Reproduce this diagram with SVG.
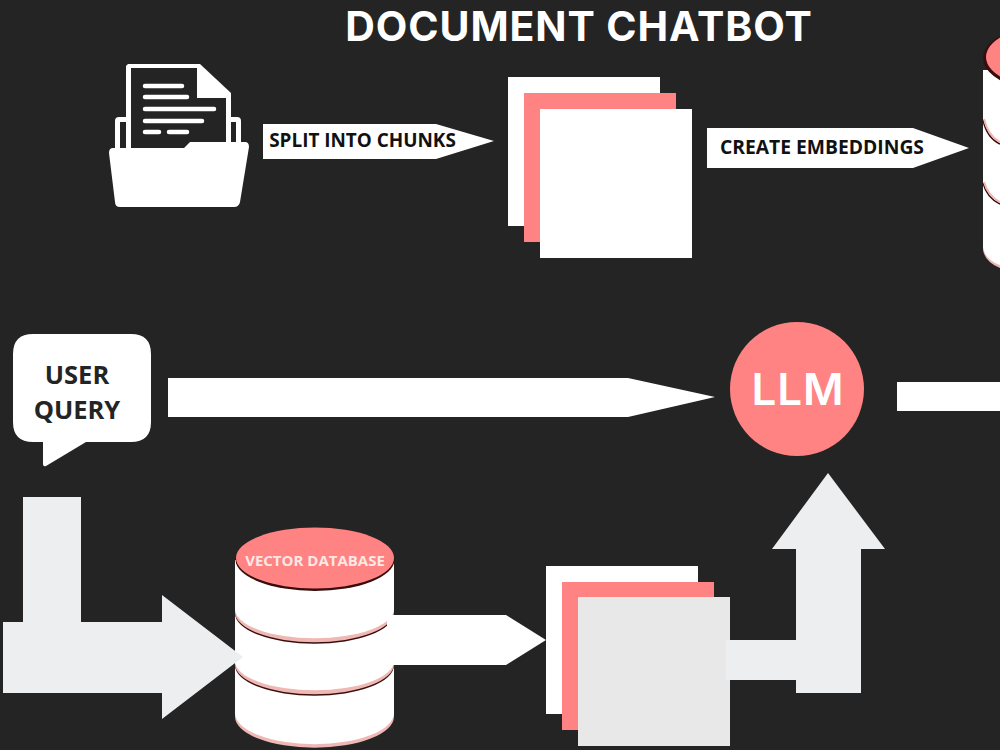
<svg xmlns="http://www.w3.org/2000/svg" width="1000" height="750" viewBox="0 0 1000 750">
<style>
text{font-family:"Open Sans","Liberation Sans",sans-serif;font-weight:700}
.i{font-family:Inter,"Open Sans",sans-serif}
.w{fill:#fff}.p{fill:#ff8383}.g{fill:#eceef0}.k{fill:#242424}.t{fill:#111}
.l{stroke:#fff;stroke-width:4.5;stroke-linecap:round;fill:none}
.dk{fill:#3a0d0d}.ed{fill:#f0b8b4}
</style>
<rect width="1000" height="750" fill="#242424"/>
<text id="title" class="i" x="579" y="40.500" text-anchor="middle" font-size="41" letter-spacing="0.9" fill="#fff">DOCUMENT CHATBOT</text>
<g id="document-folder">
<rect class="w" x="115" y="117" width="126" height="40" rx="4"/>
<rect class="k" x="120" y="122" width="6" height="30"/>
<rect class="k" x="231" y="122" width="5" height="30"/>
<polygon class="k" points="126,64 231,64 231,150 126,150"/>
<polygon class="w" points="128,64 200,64 231,93 231,150 126,150 126,66"/>
<polygon class="k" points="131,68 197,68 197,98 226,98 226,148 131,148"/>
<line class="l" x1="145" y1="86" x2="182" y2="86"/>
<line class="l" x1="145" y1="97" x2="187" y2="97"/>
<line class="l" x1="145" y1="109" x2="214" y2="109"/>
<line class="l" x1="145" y1="121" x2="202" y2="121"/>
<line class="l" x1="145" y1="132" x2="159" y2="132"/>
<line class="l" x1="169" y1="132" x2="187" y2="132"/>
<path class="w" d="M113 148H184L190 142H245Q249 142 249 147L240 202Q239 207 234 207H120Q115 207 115 202L109 153Q109 148 113 148Z"/>
</g>
<g id="chunks-top">
<rect class="w" x="508" y="77" width="152" height="149"/>
<rect class="p" x="524" y="93" width="152" height="149"/>
<rect class="w" x="540" y="109" width="152" height="149"/>
</g>
<g id="vector-db-top">
<path class="ed" d="M983 250V70H1000V268Q985 262 983 250Z"/>
<path class="w" d="M983 247V70H1000V265Q985 260 983 247Z"/>
<path d="M983 120Q987 138 1000 144M983 183Q987 198 1000 204" fill="none" stroke="#3a0d0d" stroke-width="1.5"/>
<path d="M984 119Q988 136 1000 142M984 182Q988 196 1000 202" fill="none" stroke="#f0b8b4" stroke-width="2"/>
<ellipse class="dk" cx="1062" cy="58" rx="79" ry="36"/>
<ellipse class="p" cx="1063" cy="57" rx="77" ry="34"/>
</g>
<g id="user-query">
<path class="w" d="M33 334H131Q151 334 151 354V422Q151 442 131 442H86L46 466Q43 467 43 464V442H33Q13 442 13 422V354Q13 334 33 334Z"/>
<text x="77" y="384" text-anchor="middle" font-size="25.500" fill="#242424">USER</text>
<text x="77" y="419" text-anchor="middle" font-size="25.500" fill="#242424">QUERY</text>
</g>
<g id="llm">
<circle class="p" cx="797" cy="389" r="67"/>
<text class="i" x="798" y="405" text-anchor="middle" font-size="44" letter-spacing="0.9" fill="#fff" style="font-weight:600">LLM</text>
</g>
<g id="vector-db">
<path class="ed" d="M235 715V660H394V715A79 31 0 0 1 235 715Z" transform="translate(0,1.5)"/>
<path class="w" d="M235 713V660H394V713A79 31 0 0 1 235 713Z"/>
<path class="dk" d="M235 664V620H394V664A79 30 0 0 1 235 664Z" transform="translate(0,1.5)"/>
<path class="ed" d="M235 664V620H394V664A79 30 0 0 1 235 664Z"/>
<path class="w" d="M235 661V610H394V661A79 29 0 0 1 235 661Z"/>
<path class="dk" d="M235 612V560H394V612A79 30 0 0 1 235 612Z" transform="translate(0,1.5)"/>
<path class="ed" d="M235 612V560H394V612A79 30 0 0 1 235 612Z"/>
<path class="w" d="M235 609V560H394V609A79 29 0 0 1 235 609Z"/>
<ellipse class="dk" cx="315" cy="559.500" rx="79.500" ry="31.500"/>
<ellipse class="p" cx="315" cy="558" rx="79" ry="30.500"/>
<text x="315" y="566" text-anchor="middle" font-size="15" fill="#fde8e4">VECTOR DATABASE</text>
</g>
<g id="chunks-bottom">
<rect class="w" x="546" y="566" width="152" height="148"/>
<rect class="p" x="562" y="582" width="152" height="148"/>
<rect x="578" y="597" width="152" height="149" fill="#e8e8e8"/>
</g>
<g id="connectors">
<polygon class="w" points="263,124 436,124 494,141 436,159 263,159"/>
<polygon class="w" points="707,128 913,128 969,148 913,168 707,168"/>
<polygon class="w" points="168,378 628,378 715,397 628,417 168,417"/>
<rect class="w" x="897" y="382" width="103" height="29"/>
<polygon class="g" points="23,497 81,497 81,622 162,622 162,595 243,657 162,719 162,693 3,693 3,622 23,622"/>
<polygon class="w" points="387,615 506,615 546,640 506,665 387,665"/>
<polygon class="g" points="726,640 796,640 796,549 772,549 828,473 885,549 861,549 861,693 796,693 796,680 726,680"/>
<text x="362.500" y="147" text-anchor="middle" font-size="18.900" class="t">SPLIT INTO CHUNKS</text>
<text x="822" y="154" text-anchor="middle" font-size="19.300" class="t">CREATE EMBEDDINGS</text>
</g>
</svg>
